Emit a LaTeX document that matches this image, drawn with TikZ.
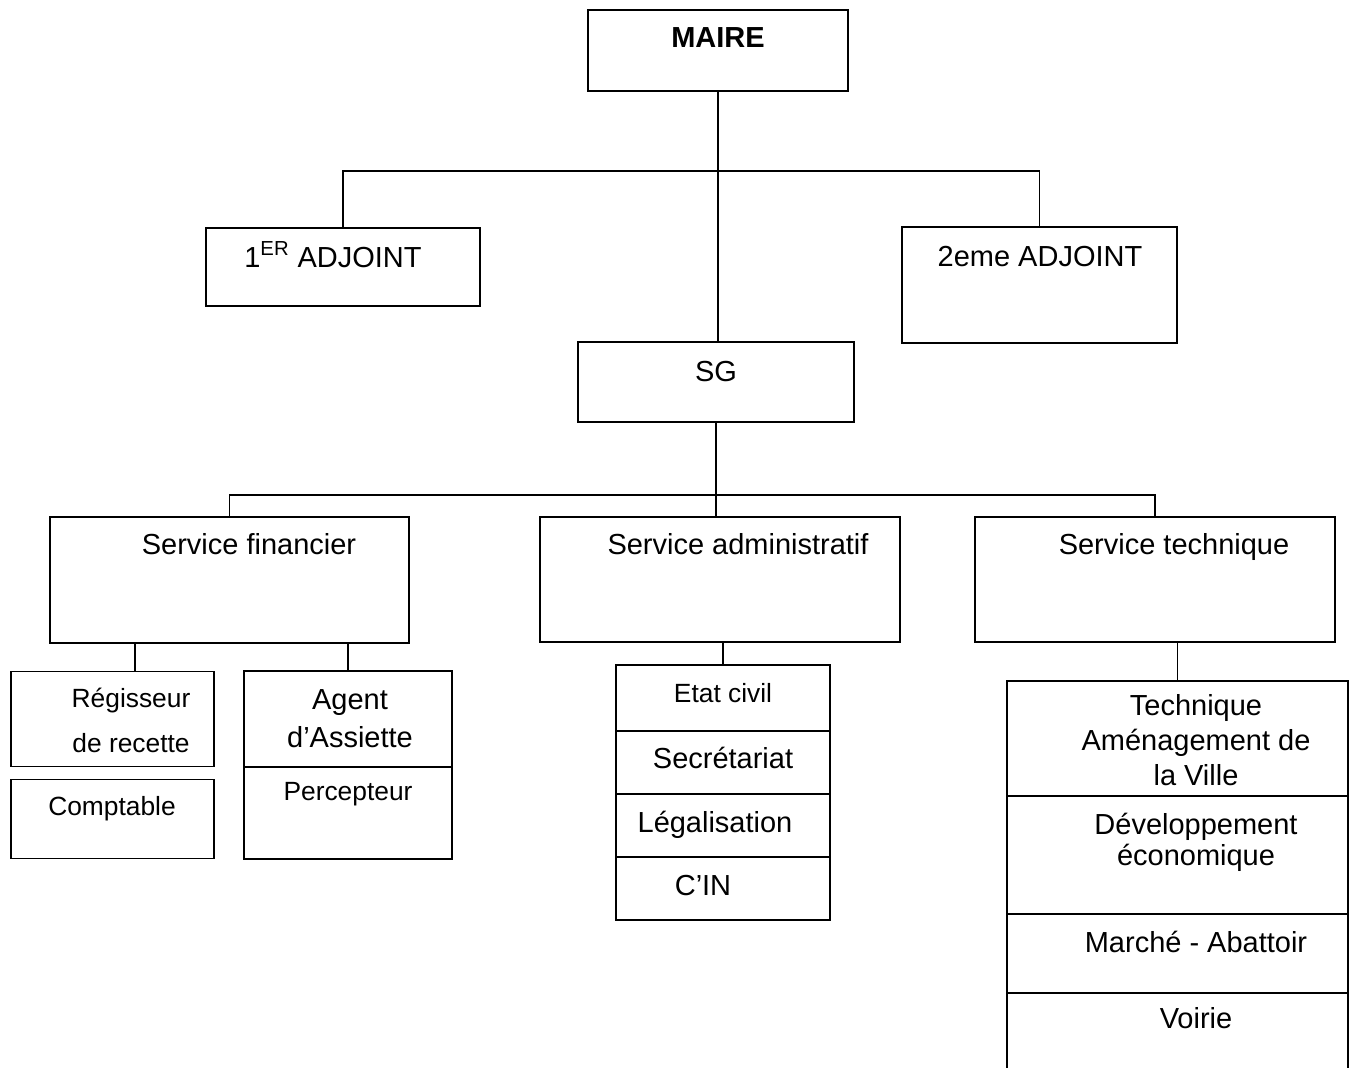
\documentclass[tikz,border=0pt]{standalone}
\usepackage{fontspec}
\setmainfont{Liberation Sans}
\usetikzlibrary{positioning,chains}
\newcommand\orgbig{\fontsize{16.5}{20}\selectfont}
\newcommand\orgsmall{\fontsize{15}{18}\selectfont}
\tikzset{
  orgbox/.style={draw, line width=1.1pt, inner sep=0pt, outer sep=0pt},
  orgtxt/.style={font=\orgbig, inner sep=0pt, anchor=base, align=center},
  orgtxtsm/.style={orgtxt, font=\orgsmall},
  orglink/.style={line width=1.1pt}
}
\begin{document}
\begin{tikzpicture}[x=0.02cm, y=-0.02cm]
\useasboundingbox (0,0) rectangle (1350,1068);
% direction
\node[orgbox, minimum width=5.2cm, minimum height=1.62cm] (maire) at (718,50.5) {};
\node[orgbox, minimum width=5.48cm, minimum height=1.56cm] (adj1) at (343,267) {};
\node[orgbox, minimum width=5.5cm, minimum height=2.32cm] (adj2) at (1039.5,285) {};
\node[orgbox, minimum width=5.52cm, minimum height=1.6cm] (sg) at (716,382) {};
% services
\node[orgbox, minimum width=7.18cm, minimum height=2.52cm] (fin) at (229.5,580) {};
\node[orgbox, minimum width=7.2cm, minimum height=2.5cm] (adm) at (720,579.5) {};
\node[orgbox, minimum width=7.2cm, minimum height=2.5cm] (tech) at (1155,579.5) {};
% service financier
\node[orgbox, minimum width=4.06cm, minimum height=1.9cm] (regis) at (112.5,719) {};
\node[orgbox, minimum width=4.06cm, minimum height=1.58cm, below=0.26cm of regis] (compt) {};
\node[orgbox, minimum width=4.16cm, minimum height=1.92cm] (agent) at (348,719) {};
\node[orgbox, minimum width=4.16cm, minimum height=1.84cm, below=0pt of agent] (percep) {};
% service administratif
\begin{scope}[start chain=admstack going below, node distance=0pt]
\node[orgbox, on chain, minimum width=4.28cm, minimum height=1.32cm] (etat) at (723,698) {};
\node[orgbox, on chain, minimum width=4.28cm, minimum height=1.26cm] (secr) {};
\node[orgbox, on chain, minimum width=4.28cm, minimum height=1.26cm] (legal) {};
\node[orgbox, on chain, minimum width=4.28cm, minimum height=1.26cm] (cin) {};
\end{scope}
% service technique
\begin{scope}[start chain=techstack going below, node distance=0pt]
\node[orgbox, on chain, minimum width=6.82cm, minimum height=2.3cm] (amen) at (1177.5,738.5) {};
\node[orgbox, on chain, minimum width=6.82cm, minimum height=2.36cm] (devel) {};
\node[orgbox, on chain, minimum width=6.82cm, minimum height=1.58cm] (marche) {};
\node[orgbox, on chain, minimum width=6.82cm, minimum height=1.8cm] (voirie) {};
\end{scope}
% textes (base = derniere ligne)
\node[orgtxt, font=\orgbig\bfseries] (t-maire) at (718,48) {MAIRE};
\node[orgtxt] (t-adj1) at (333,267) {1\textsuperscript{ER} ADJOINT};
\node[orgtxt] (t-adj2) at (1040,266) {2eme ADJOINT};
\node[orgtxt] (t-sg) at (716,381) {SG};
\node[orgtxt] (t-fin) at (249,554) {Service financier};
\node[orgtxt] (t-adm) at (738,554) {Service administratif};
\node[orgtxt] (t-tech) at (1174,554) {Service technique};
\node[orgtxtsm, font=\fontsize{15}{25.6}\selectfont] (t-regis) at (131,752) {Régisseur\\de recette};
\node[orgtxtsm] (t-compt) at (112,815) {Comptable};
\node[orgtxt, font=\fontsize{16.5}{21.6}\selectfont] (t-agent) at (350,747) {Agent\\d’Assiette};
\node[orgtxtsm] (t-percep) at (348,800) {Percepteur};
\node[orgtxtsm] (t-etat) at (723,702) {Etat civil};
\node[orgtxt] (t-secr) at (723,768) {Secrétariat};
\node[orgtxt] (t-legal) at (715,832) {Légalisation};
\node[orgtxt] (t-cin) at (703,895) {C’IN};
\node[orgtxt, font=\fontsize{16.5}{19.9}\selectfont] (t-amen) at (1196,785) {Technique\\Aménagement de\\la Ville};
\node[orgtxt, font=\fontsize{16.5}{17.6}\selectfont] (t-devel) at (1196,865) {Développement\\économique};
\node[orgtxt] (t-marche) at (1196,952) {Marché - Abattoir};
\node[orgtxt] (t-voirie) at (1196,1028) {Voirie};
% liaisons
\coordinate (bar-adj) at (718,171);
\coordinate (bus-srv) at (716,495);
\coordinate (fin-l) at (135,0);
\draw[orglink] (maire.south) -- (maire.south |- sg.north);
\draw[orglink] (adj1.north) |- (bar-adj) -| (adj2.north);
\draw[orglink] (sg.south) -- (sg.south |- adm.north);
\draw[orglink] (fin.north) |- (bus-srv) -| (tech.north);
\draw[orglink] (fin.south -| fin-l) -- (regis.north -| fin-l);
\draw[orglink] (fin.south -| agent.north) -- (agent.north);
\draw[orglink] (adm.south -| etat.north) -- (etat.north);
\draw[orglink] (tech.south -| amen.north) -- (amen.north);
\end{tikzpicture}
\end{document}
